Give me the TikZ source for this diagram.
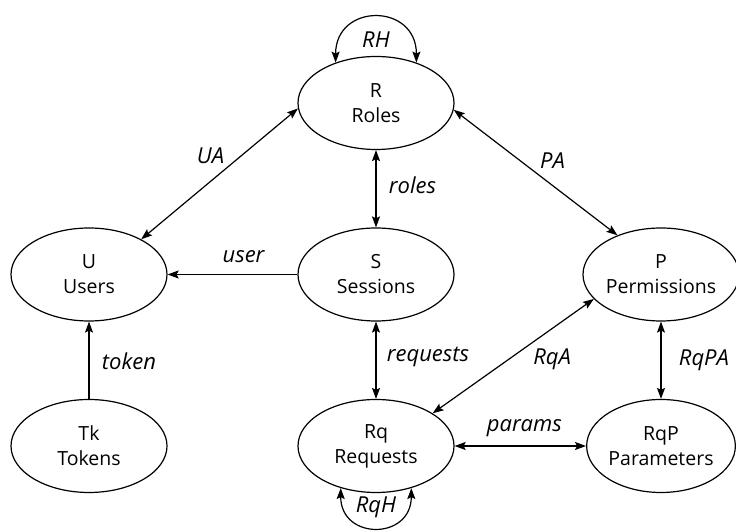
\documentclass[tikz,border=0pt]{standalone}
\usepackage{fontspec}
\setmainfont{Open Sans}
\usetikzlibrary{arrows.meta,shapes.geometric}

\begin{document}
\begin{tikzpicture}[
        %Environment config
        x=1pt, y=1pt,
        font=\fontsize{19.5}{25}\selectfont,
        line width=1.2pt,
        >={Stealth[length=11pt,width=8pt,inset=2pt]},
        %Environment styles
        EntityCfg/.style={
            ellipse,
            draw,
            align=center,
            minimum width=156pt,
            minimum height=93pt,
            inner sep=0pt
        },
        NarrowCfg/.style={
            EntityCfg,
            minimum width=147pt
        },
        LabelCfg/.style={
            font=\fontsize{22}{25}\selectfont\itshape,
            midway
        }
    ]
    \useasboundingbox (0,0) rectangle (736,532);
    \path
        (376,429) node[EntityCfg](R){R\\Roles}
            ++ (0,-171.5) node[EntityCfg](S){S\\Sessions}
            ++ (0,-171.5) node[EntityCfg](Rq){Rq\\Requests}
        (89,257.5) node[EntityCfg](U){U\\Users}
            ++ (0,-171.5) node[EntityCfg](Tk){Tk\\Tokens}
        (661,257.5) node[NarrowCfg](P){P\\Permissions}
            ++ (0,-171.5) node[NarrowCfg](RqP){RqP\\Parameters};

    \draw
        (U.34) edge[<->] node[LabelCfg,xshift=-9pt,yshift=18pt]{UA} (R.184)
        (R.355) edge[<->] node[LabelCfg,xshift=17pt,yshift=12pt]{PA} (P.138)
        (R.south) edge[<->] node[LabelCfg,anchor=west,xshift=9pt,yshift=3pt]{roles} (S.north)
        (S.west) edge[->] node[LabelCfg,xshift=11pt,yshift=18pt]{user} (U.east)
        (Tk.north) edge[->] node[LabelCfg,anchor=west,xshift=9pt,yshift=-1pt]{token} (U.south)
        (S.south) edge[<->] node[LabelCfg,anchor=west,xshift=7pt,yshift=3pt]{requests} (Rq.north)
        (Rq.30) edge[<->] node[LabelCfg,xshift=39pt,yshift=-3pt]{RqA} (P.200)
        (P.south) edge[<->] node[LabelCfg,anchor=west,xshift=14pt]{RqPA} (RqP.north)
        (Rq.east) edge[<->] node[LabelCfg,xshift=4pt,yshift=18pt]{params} (RqP.west)
        (R.135) edge[<->,out=90,in=90,looseness=1.9]
            node[LabelCfg,yshift=-22pt]{RH} (R.45)
        (Rq.230) edge[<->,out=-90,in=-90,looseness=1.9]
            node[LabelCfg,yshift=20pt]{RqH} (Rq.310);
\end{tikzpicture}
\end{document}
